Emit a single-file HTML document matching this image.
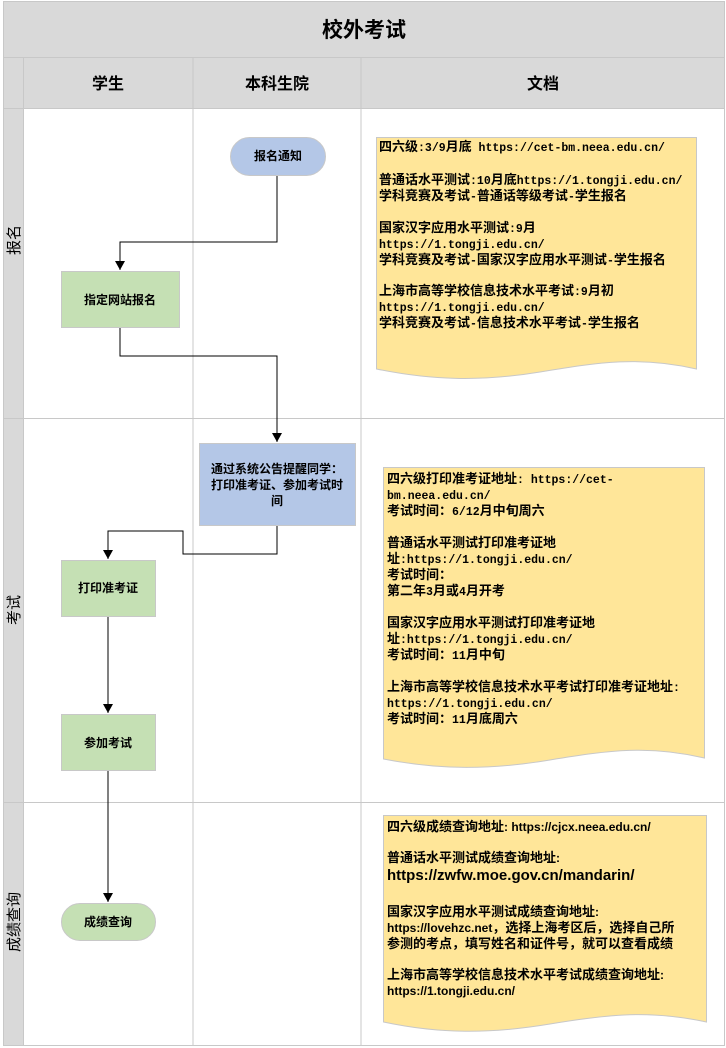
<!DOCTYPE html>
<html><head><meta charset="utf-8"><style>
html,body{margin:0;padding:0;background:#fff;}
svg{display:block;}
text{font-family:"Liberation Sans","Noto Sans CJK SC",sans-serif;fill:#000;}
.b{font-weight:bold;font-size:12px;}
.d{font-weight:bold;font-size:13px;}
.m{font-family:"Liberation Mono","Noto Sans CJK SC",monospace;font-weight:bold;font-size:13px;}
.u{font-size:11.5px;}
.s{font-size:12px;}
</style></head><body>
<svg width="726" height="1048" viewBox="0 0 726 1048" xmlns="http://www.w3.org/2000/svg">
<defs><marker id="a" markerWidth="10" markerHeight="10" refX="9" refY="5" orient="auto" markerUnits="userSpaceOnUse"><path d="M0,0 L9,5 L0,10 z" fill="#000"/></marker></defs>
<rect x="0" y="0" width="726" height="1048" fill="#fff"/>
<rect x="3.5" y="1.5" width="721" height="56" fill="#d9d9d9" stroke="#c8c8c8"/>
<text x="364" y="37" text-anchor="middle" font-size="21" font-weight="bold">校外考试</text>
<rect x="3.5" y="57.5" width="721" height="51" fill="#d9d9d9" stroke="#c8c8c8"/>
<rect x="3.5" y="108.5" width="20" height="937" fill="#d9d9d9" stroke="#c8c8c8"/>
<rect x="24" y="109" width="700" height="936" fill="#fff"/>
<line x1="23.5" y1="58" x2="23.5" y2="1046" stroke="#c8c8c8"/>
<line x1="193" y1="58" x2="193" y2="1046" stroke="#c8c8c8"/>
<line x1="361" y1="58" x2="361" y2="1046" stroke="#c8c8c8"/>
<line x1="724.5" y1="58" x2="724.5" y2="1046" stroke="#c8c8c8"/>
<line x1="24" y1="108.5" x2="725" y2="108.5" stroke="#c8c8c8"/>
<line x1="3" y1="418.5" x2="725" y2="418.5" stroke="#c8c8c8"/>
<line x1="3" y1="802.5" x2="725" y2="802.5" stroke="#c8c8c8"/>
<line x1="3" y1="1045.5" x2="725" y2="1045.5" stroke="#c8c8c8"/>
<text x="108" y="89" text-anchor="middle" font-size="16" font-weight="bold">学生</text>
<text x="277" y="89" text-anchor="middle" font-size="16" font-weight="bold">本科生院</text>
<text x="543" y="89" text-anchor="middle" font-size="16" font-weight="bold">文档</text>
<text transform="translate(19,240) rotate(-90)" text-anchor="middle" font-size="15">报名</text>
<text transform="translate(19,610) rotate(-90)" text-anchor="middle" font-size="15">考试</text>
<text transform="translate(19,922) rotate(-90)" text-anchor="middle" font-size="15">成绩查询</text>

<g fill="none" stroke="#000" stroke-width="1">
<polyline points="277,175 277,242 120,242 120,270" marker-end="url(#a)"/>
<polyline points="120,327 120,356 277,356 277,442" marker-end="url(#a)"/>
<polyline points="277,525 277,554 183,554 183,531 108,531 108,559" marker-end="url(#a)"/>
<polyline points="108,616 108,713" marker-end="url(#a)"/>
<polyline points="108,770 108,902" marker-end="url(#a)"/>
</g>
<rect x="230.5" y="137.5" width="95" height="38" rx="19" fill="#b4c7e7" stroke="#c8c8c8"/>
<text class="b" x="278" y="160" text-anchor="middle">报名通知</text>
<rect x="61.5" y="271.5" width="118" height="56" fill="#c5e0b4" stroke="#c8c8c8"/>
<text class="b" x="120" y="304" text-anchor="middle">指定网站报名</text>
<rect x="199.5" y="443.5" width="156" height="82" fill="#b4c7e7" stroke="#c8c8c8"/>
<text class="b" x="277" y="473" text-anchor="middle">通过系统公告提醒同学：</text>
<text class="b" x="277" y="489" text-anchor="middle">打印准考证、参加考试时</text>
<text class="b" x="277" y="505" text-anchor="middle">间</text>
<rect x="61.5" y="560.5" width="94" height="56" fill="#c5e0b4" stroke="#c8c8c8"/>
<text class="b" x="108" y="592" text-anchor="middle">打印准考证</text>
<rect x="61.5" y="714.5" width="94" height="56" fill="#c5e0b4" stroke="#c8c8c8"/>
<text class="b" x="108" y="747" text-anchor="middle">参加考试</text>
<rect x="61.5" y="903.5" width="94" height="37" rx="18.5" fill="#c5e0b4" stroke="#c8c8c8"/>
<text class="b" x="108" y="926" text-anchor="middle">成绩查询</text>

<path d="M376.5,137.5 H696.5 V369 C640,356 600,362 540,372 C480,382 430,380 376.5,369 Z" fill="#ffe699" stroke="#c8c8c8"/>
<text class="m" x="379" y="151">四六级<tspan class="u">:3/9</tspan>月底<tspan class="u"> https://cet-bm.neea.edu.cn/</tspan></text>
<text class="m" x="379" y="184">普通话水平测试<tspan class="u">:10</tspan>月底<tspan class="u">https://1.tongji.edu.cn/</tspan></text>
<text class="m" x="379" y="200">学科竞赛及考试<tspan class="u">-</tspan>普通话等级考试<tspan class="u">-</tspan>学生报名</text>
<text class="m" x="379" y="232">国家汉字应用水平测试<tspan class="u">:9</tspan>月</text>
<text class="m u" x="379" y="248">https://1.tongji.edu.cn/</text>
<text class="m" x="379" y="264">学科竞赛及考试<tspan class="u">-</tspan>国家汉字应用水平测试<tspan class="u">-</tspan>学生报名</text>
<text class="m" x="379" y="295">上海市高等学校信息技术水平考试<tspan class="u">:9</tspan>月初</text>
<text class="m u" x="379" y="311">https://1.tongji.edu.cn/</text>
<text class="m" x="379" y="327">学科竞赛及考试<tspan class="u">-</tspan>信息技术水平考试<tspan class="u">-</tspan>学生报名</text>
<path d="M383.5,467.5 H704.5 V758 C650,745 610,750 550,760 C490,770 440,770 383.5,759 Z" fill="#ffe699" stroke="#c8c8c8"/>
<text class="m" x="387" y="483">四六级打印准考证地址<tspan class="u">: https://cet-</tspan></text>
<text class="m u" x="387" y="499">bm.neea.edu.cn/</text>
<text class="m" x="387" y="515">考试时间：<tspan class="u">6/12</tspan>月中旬周六</text>
<text class="m" x="387" y="547">普通话水平测试打印准考证地</text>
<text class="m" x="387" y="563">址<tspan class="u">:https://1.tongji.edu.cn/</tspan></text>
<text class="m" x="387" y="579">考试时间：</text>
<text class="m" x="387" y="595">第二年<tspan class="u">3</tspan>月或<tspan class="u">4</tspan>月开考</text>
<text class="m" x="387" y="627">国家汉字应用水平测试打印准考证地</text>
<text class="m" x="387" y="643">址<tspan class="u">:https://1.tongji.edu.cn/</tspan></text>
<text class="m" x="387" y="659">考试时间：<tspan class="u">11</tspan>月中旬</text>
<text class="m" x="387" y="691">上海市高等学校信息技术水平考试打印准考证地址<tspan class="u">:</tspan></text>
<text class="m u" x="387" y="707">https://1.tongji.edu.cn/</text>
<text class="m" x="387" y="723">考试时间：<tspan class="u">11</tspan>月底周六</text>
<path d="M383.5,815.5 H706.5 V1022 C650,1010 610,1014 550,1024 C490,1034 440,1034 383.5,1022 Z" fill="#ffe699" stroke="#c8c8c8"/>
<text class="d" x="387" y="831">四六级成绩查询地址<tspan class="s">: https://cjcx.neea.edu.cn/</tspan></text>
<text class="d" x="387" y="862">普通话水平测试成绩查询地址<tspan class="s">:</tspan></text>
<text x="387" y="880" font-size="15" font-weight="bold">https://zwfw.moe.gov.cn/mandarin/</text>
<text class="d" x="387" y="916">国家汉字应用水平测试成绩查询地址<tspan class="s">:</tspan></text>
<text class="d" x="387" y="932"><tspan class="s">https://lovehzc.net</tspan>，选择上海考区后，选择自己所</text>
<text class="d" x="387" y="948">参测的考点，填写姓名和证件号，就可以查看成绩</text>
<text class="d" x="387" y="979">上海市高等学校信息技术水平考试成绩查询地址<tspan class="s">:</tspan></text>
<text class="d s" x="387" y="995">https://1.tongji.edu.cn/</text>
</svg>
</body></html>
